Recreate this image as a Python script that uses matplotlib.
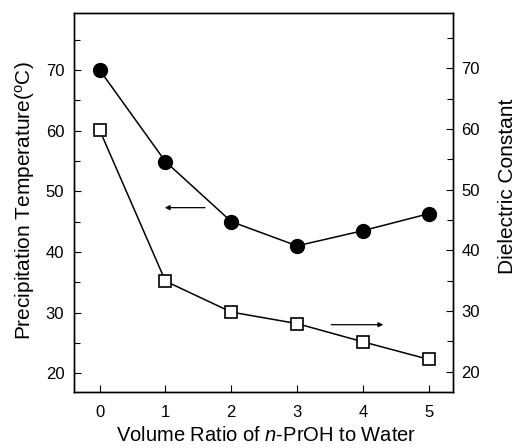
import matplotlib
matplotlib.use("Agg")
import matplotlib.pyplot as plt
from matplotlib.ticker import MultipleLocator

plt.rcParams['font.family'] = ['Liberation Sans', 'DejaVu Sans']
plt.rcParams['mathtext.fontset'] = 'custom'
plt.rcParams['mathtext.it'] = 'Liberation Sans:italic'
plt.rcParams['mathtext.rm'] = 'Liberation Sans'

ratio = [0, 1, 2, 3, 4, 5]
precip_temp = [70.0, 54.9, 45.0, 41.0, 43.5, 46.3]
dielectric = [59.8, 34.9, 29.8, 27.9, 24.9, 22.0]

fig = plt.figure(figsize=(5.18, 4.48), dpi=100)
ax = fig.add_axes([74/518, 1-392/448, (453-74)/518, (392-13)/448])
ax2 = ax.twinx()

ax.plot(ratio, precip_temp, '-', color='black', lw=1.1, marker='o', ms=10,
        mfc='black', mec='black', zorder=3)
ax2.plot(ratio, dielectric, '-', color='black', lw=1.1, marker='s', ms=9,
         mfc='white', mec='black', mew=1.2, zorder=3)

ax.set_xlim(-0.39, 5.37)
ax.set_ylim(16.9, 79.4)
ax2.set_ylim(16.62, 79.12)

for a in (ax, ax2):
    a.yaxis.set_major_locator(MultipleLocator(10))
    a.yaxis.set_minor_locator(MultipleLocator(5))
    a.tick_params(which='both', direction='in', labelsize=12, width=0.8)
    a.tick_params(which='major', length=5)
    a.tick_params(which='minor', length=4)
    for s in a.spines.values():
        s.set_linewidth(1.0)
ax.xaxis.set_major_locator(MultipleLocator(1))
ax.tick_params(axis='x', pad=9)
ax.tick_params(axis='y', pad=7)
ax2.tick_params(axis='y', pad=6)

ax.set_xlabel('Volume Ratio of $\\mathit{n}$-PrOH to Water', fontsize=14.5, va='center')
ax.set_ylabel('Precipitation Temperature($^{\\rm o}$C)', fontsize=15, va='center')
ax2.set_ylabel('Dielectric Constant', fontsize=15, va='center')
ax.xaxis.set_label_coords(0.507, -0.116)
ax.yaxis.set_label_coords(-0.129, 0.504)
ax2.yaxis.set_label_coords(1.145, 0.5435)

ax.annotate('', xy=(0.99, 47.3), xytext=(1.6, 47.3),
            arrowprops=dict(arrowstyle='-|>', color='black', lw=0.9,
                            mutation_scale=7, shrinkA=0, shrinkB=0))
ax.annotate('', xy=(4.31, 28.0), xytext=(3.52, 28.0),
            arrowprops=dict(arrowstyle='-|>', color='black', lw=0.9,
                            mutation_scale=7, shrinkA=0, shrinkB=0))

fig.savefig('out.png', dpi=100)
